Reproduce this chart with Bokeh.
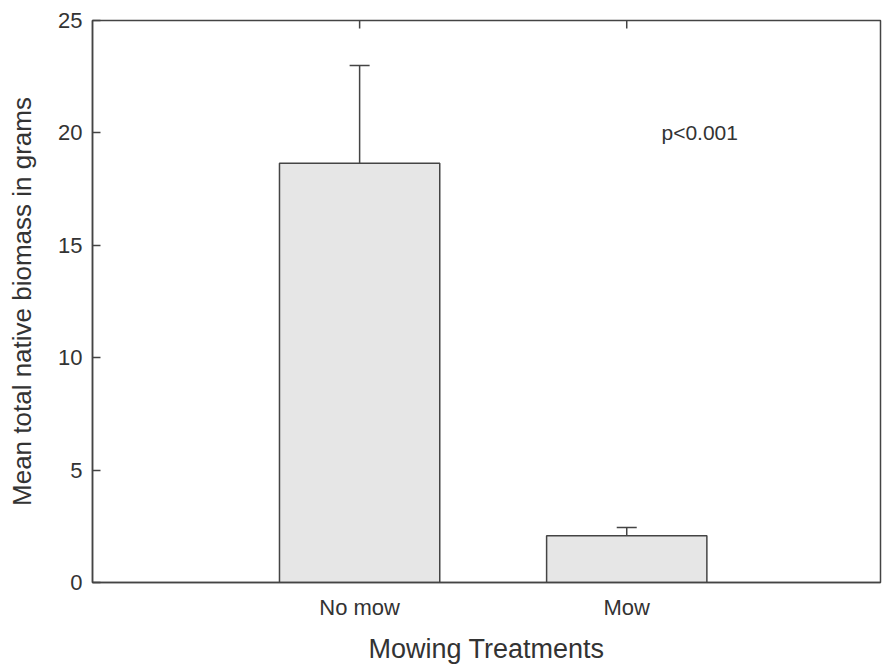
import math
from bokeh.plotting import figure
from bokeh.models import Range1d, FixedTicker, ColumnDataSource
from bokeh.core.properties import value
from bokeh.embed import file_html
from bokeh.resources import INLINE

# Data
categories = ["No mow", "Mow"]
positions = [1, 2]
means = [18.65, 2.08]
errors = [4.35, 0.37]
y_ticks = [0, 5, 10, 15, 20, 25]
annotation = "p<0.001"
y_max = 25

FONT = "Liberation Sans"
TXT = "#333333"
LINE = "#444444"

p = figure(width=882, height=666, output_backend="svg", toolbar_location=None,
           x_range=Range1d(0, 2.95), y_range=Range1d(0, y_max),
           min_border_left=92, min_border_right=2, min_border_top=20,
           min_border_bottom=84)
p.background_fill_color = "white"
p.border_fill_color = "white"
p.grid.visible = False
p.outline_line_color = LINE
p.outline_line_width = 1.5

src = ColumnDataSource(dict(x=positions, top=means,
                            up=[m + e for m, e in zip(means, errors)],
                            ymax=[y_max] * len(positions)))

p.vbar(x="x", top="top", bottom=0, width=0.6, source=src,
       fill_color="#e6e6e6", line_color=LINE, line_width=1.5)
p.segment(x0="x", y0="top", x1="x", y1="up", source=src,
          line_color=LINE, line_width=1.5)
p.scatter(x="x", y="up", source=src, marker="dash", size=20,
          line_color=LINE, line_width=1.5)
# top-edge category ticks (pointing inward)
p.scatter(x="x", y="ymax", source=src, marker="dash", size=16,
          angle=math.pi / 2, line_color=LINE, line_width=1.5)

p.text(x=[2.13], y=[20], text=[annotation], text_font=value(FONT),
       text_font_size="21px", text_color=TXT, text_baseline="middle",
       text_align="left")

# Axes
xa = p.xaxis[0]
xa.ticker = FixedTicker(ticks=positions)
xa.major_label_overrides = {pos: c for pos, c in zip(positions, categories)}
xa.major_tick_in = 0
xa.major_tick_out = 0
xa.minor_tick_line_color = None
xa.axis_line_color = LINE
xa.axis_line_width = 1.5
xa.major_label_text_font = FONT
xa.major_label_text_font_size = "22px"
xa.major_label_text_color = TXT
xa.major_label_standoff = 12
xa.axis_label = "Mowing Treatments"
xa.axis_label_text_font = FONT
xa.axis_label_text_font_size = "27px"
xa.axis_label_text_font_style = "normal"
xa.axis_label_text_color = TXT
xa.axis_label_standoff = 11

ya = p.yaxis[0]
ya.ticker = FixedTicker(ticks=y_ticks)
ya.major_tick_in = 8
ya.major_tick_out = 0
ya.major_tick_line_color = LINE
ya.major_tick_line_width = 1.5
ya.minor_tick_line_color = None
ya.axis_line_color = LINE
ya.axis_line_width = 1.5
ya.major_label_text_font = FONT
ya.major_label_text_font_size = "22px"
ya.major_label_text_color = TXT
ya.major_label_standoff = 10
ya.axis_label = "Mean total native biomass in grams"
ya.axis_label_text_font = FONT
ya.axis_label_text_font_size = "26px"
ya.axis_label_text_font_style = "normal"
ya.axis_label_text_color = TXT
ya.axis_label_standoff = 18

open("out.html", "w").write(file_html(p, INLINE))
